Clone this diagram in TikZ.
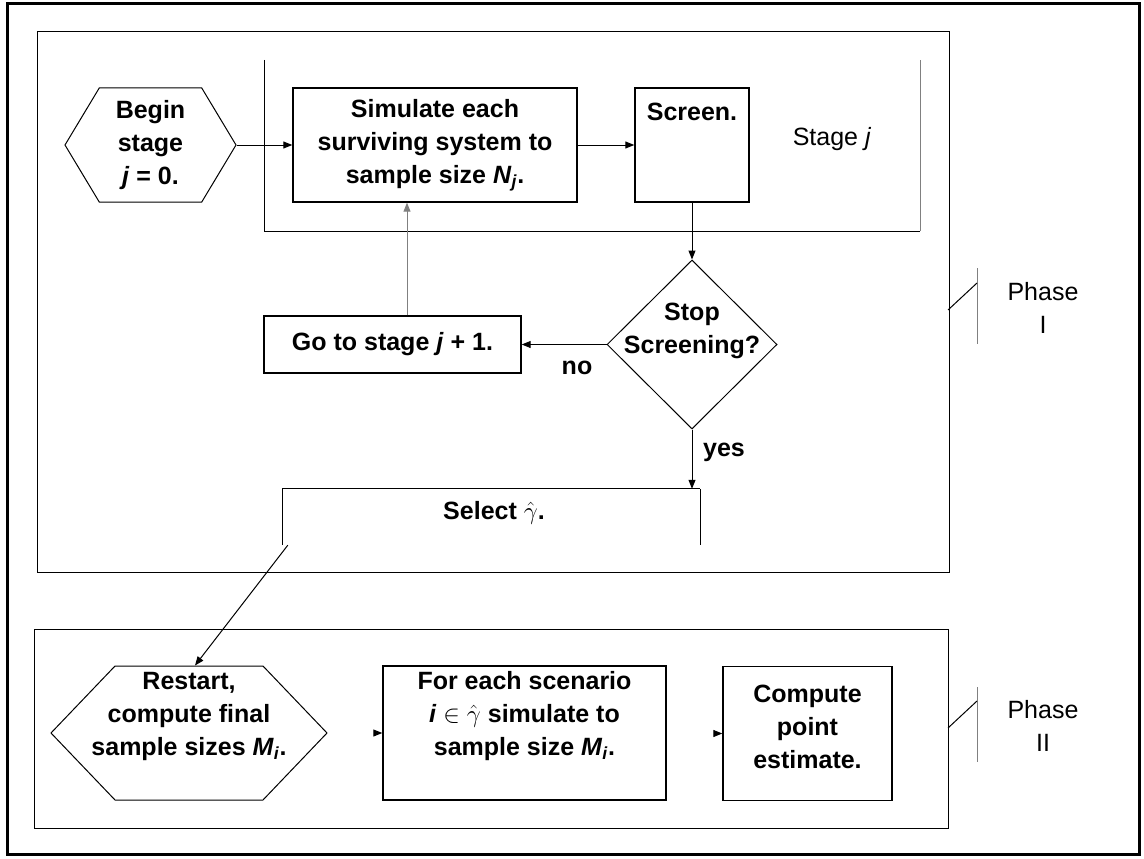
\documentclass[tikz,border=0pt]{standalone}
\usepackage{fontspec}
\setmainfont{Liberation Sans}
\usetikzlibrary{shapes.symbols,shapes.geometric,arrows.meta}
\begin{document}
\begin{tikzpicture}[x=1pt,y=-1pt,
  font=\fontsize{25}{33}\selectfont\bfseries,
  box/.style={draw, line width=1.4pt, inner sep=0pt},
  hexa/.style={draw, line width=1pt, signal, signal to=west and east, inner sep=0pt},
  txt/.style={align=center, inner sep=0pt},
  lbl/.style={align=center, inner sep=0pt, font=\fontsize{25}{33}\selectfont},
  arr/.style={-{Triangle[length=9pt,width=7pt]}, line width=1pt},
  thinline/.style={line width=1pt}]
\useasboundingbox (0,0) rectangle (1144,859);
% frames
\draw[line width=3pt] (7,4) rectangle (1139,854);
\draw[thinline] (37,32) rectangle (949,572);
\draw[thinline] (34,629) rectangle (948,828);
% stage bracket
\draw[thinline] (264,60) -- (264,231) -- (920,231);
\draw[thinline,gray] (920,231) -- (920,60);
% phase I
\node[hexa, signal pointer angle=118, minimum width=171, minimum height=114] (begin) at (150.5,145) {};
\node[txt] (begintxt) at (150.5,145) {Begin\\stage\\\textit{j} = 0.};
\node[box, minimum width=284, minimum height=114] (sim) at (435,145) {};
\node[txt] (simtxt) at (435,145) {Simulate each\\surviving system to\\sample size \textit{N}\textsubscript{\textit{j}}.};
\node[box, minimum width=114, minimum height=114] (screen) at (692,145) {};
\node[txt] (screentxt) at (692,112) {Screen.};
\node[lbl] (stage) at (832,139) {Stage \textit{j}};
\node[draw, diamond, line width=1pt, minimum width=170, minimum height=169, inner sep=0pt] (stop) at (692,344.5) {};
\node[txt] (stoptxt) at (692,331) {Stop\\Screening?};
\node[box, minimum width=257, minimum height=57] (goto) at (392.5,344.5) {};
\node[txt] (gototxt) at (392.5,344.5) {Go to stage \textit{j} + 1.};
\node[txt] (no) at (577,368) {no};
\node[txt] (yes) at (724,452) {yes};
\node[minimum width=417, minimum height=56, inner sep=0pt] (sel) at (491.5,517) {};
\node[txt] (seltxt) at (494,513) {Select $\hat{\gamma}$.};
\draw[thinline] (sel.south west) -- (sel.north west) -- (sel.north east);
\draw[line width=1.4pt] (sel.north east) -- (sel.south east);
% phase II
\node[hexa, signal pointer angle=92.6, minimum width=276, minimum height=134] (restart) at (189,733) {};
\node[txt] (restarttxt) at (189,716) {Restart,\\compute final\\sample sizes \textit{M}\textsubscript{\textit{i}}.};
\node[box, minimum width=283, minimum height=134] (fe) at (524.5,733) {};
\node[txt] (fetxt) at (524.5,716) {For each scenario\\\textit{i} $\in\hat{\gamma}$ simulate to\\sample size \textit{M}\textsubscript{\textit{i}}.};
\node[box, minimum width=169, minimum height=134] (comp) at (807.5,733.5) {};
\node[txt] (comptxt) at (807.5,727) {Compute\\point\\estimate.};
% connectors
\draw[arr] (begin.east) -- (sim.west);
\draw[arr] (sim.east) -- (screen.west);
\draw[arr] (screen.south) -- (stop.north);
\draw[arr] (stop.west) -- (goto.east);
\coordinate (gotoup) at ([xshift=14.5pt]goto.north);
\draw[arr, gray] (gotoup) -- (gotoup |- sim.south);
\draw[arr] (stop.south) -- (stop.south |- sel.north);
\coordinate (selout) at ([xshift=5pt]sel.south west);
\draw[arr] (selout) -- ([xshift=6pt]restart.north);
\coordinate (s1) at ([xshift=-7pt]fe.west);
\draw[arr] (s1) -- (fe.west);
\coordinate (s2) at ([xshift=-7pt]comp.west);
\draw[arr] (s2) -- (comp.west);
% phase labels
\draw[thinline,gray] (977,268) -- (977,344);
\draw[thinline] (948,310) -- (977,283);
\node[lbl] (phase1) at (1043,308) {Phase\\I};
\draw[thinline,gray] (977,687) -- (977,762);
\draw[thinline] (948,728) -- (977,701);
\node[lbl] (phase2) at (1043,726) {Phase\\II};
\end{tikzpicture}
\end{document}
